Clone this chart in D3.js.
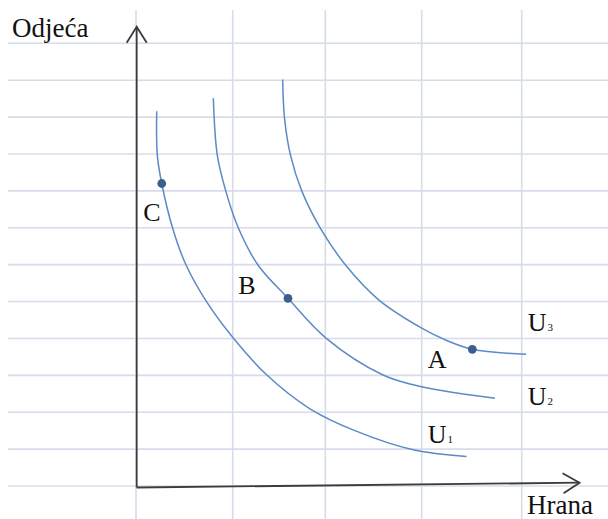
<!DOCTYPE html>
<html><head><meta charset="utf-8">
<script src="https://cdn.jsdelivr.net/npm/d3@7"></script>
<style>html,body{margin:0;padding:0;background:#fff;}svg{display:block;}</style>
</head><body>
<script>
// ---- data (grid units) ----
const gridX = [0, 1.003, 1.964, 2.963, 4];
const gridY = [0,1,2,3,4,5,6,7,8,9,10,11,12];
const curveNames = ["U1","U2","U3"];
const u1 = [[0.215,10.16],[0.221,8.97],[0.267,8.20],[0.381,6.98],[0.519,5.99],[0.733,4.99],[1.009,4.01],[1.36,3.00],[1.80,2.10],[2.27,1.50],[2.876,0.98],[3.427,0.80]];
const u2 = [[0.802,10.51],[0.843,8.97],[0.933,7.98],[1.063,6.985],[1.265,5.99],[1.576,5.088],[1.970,4.01],[2.562,3.01],[2.963,2.69],[3.723,2.38]];
const u3 = [[1.521,11.02],[1.540,9.98],[1.602,8.97],[1.722,7.98],[1.913,6.985],[2.173,5.99],[2.520,5.04],[2.963,4.28],[3.222,3.944],[3.488,3.705],[4.045,3.57]];
const pointNames = ["A","B","C"];
const pointValues = [[3.488,3.705],[1.576,5.088],[0.267,8.20]];
const xTitle = "Hrana";
const yTitle = "Odjeća";

const W = 608, H = 519;
const x = d3.scaleLinear().domain([0,4]).range([136,521.7]);
const y = d3.scaleLinear().domain([0,12]).range([486,43.3]);

const svg = d3.select("body").append("svg").attr("width",W).attr("height",H);

// grid
const gridColor = "#d7dcea";
svg.append("g").selectAll("line").data(gridY).join("line")
  .attr("x1",8).attr("x2",W).attr("y1",d=>y(d)).attr("y2",d=>y(d))
  .attr("stroke",gridColor).attr("stroke-width",1.6);
svg.append("g").selectAll("line").data(gridX).join("line")
  .attr("x1",d=>x(d)).attr("x2",d=>x(d)).attr("y1",10).attr("y2",H)
  .attr("stroke",gridColor).attr("stroke-width",1.6);

// axes
const axisColor = "#3c3c3c";
const ox = x(0)+0.7, oy = y(0)+1.5;
const yTop = y(12.45), xEnd = x(4.6);
const ax = svg.append("g").attr("stroke",axisColor).attr("fill","none").attr("stroke-width",1.8);
ax.append("line").attr("x1",ox).attr("y1",oy).attr("x2",ox).attr("y2",yTop);
ax.append("path").attr("d",`M${ox-10},${yTop+16}L${ox},${yTop}L${ox+10},${yTop+16}`);
const xTipY = oy-4.8;
ax.append("line").attr("x1",ox).attr("y1",oy).attr("x2",xEnd).attr("y2",xTipY);
ax.append("path").attr("d",`M${xEnd-17},${xTipY-9.5}L${xEnd},${xTipY}L${xEnd-16},${xTipY+10.5}`);

// curves
const line = d3.line().x(d=>x(d[0])).y(d=>y(d[1])).curve(d3.curveCatmullRom.alpha(0.5));
const curves = [u1,u2,u3];
svg.append("g").selectAll("path").data(curves).join("path")
  .attr("d",line).attr("fill","none").attr("stroke","#5b8ac6").attr("stroke-width",1.5);

// points
svg.append("g").selectAll("circle").data(pointValues).join("circle")
  .attr("cx",d=>x(d[0])).attr("cy",d=>y(d[1])).attr("r",4.4).attr("fill","#3d5f8e");

const font = "'Liberation Serif','Times New Roman',serif";
const textColor = "#111";
// point labels (offsets from dots)
const pOff = [[-44.6,18.7],[-49.7,-4],[-18.4,37.4]];
svg.append("g").selectAll("text").data(pointValues).join("text")
  .attr("x",(d,i)=>x(d[0])+pOff[i][0]).attr("y",(d,i)=>y(d[1])+pOff[i][1])
  .attr("font-family",font).attr("font-size",26).attr("fill",textColor)
  .text((d,i)=>pointNames[i]);

// curve labels (offsets from curve ends)
const cOff = [[-38.8,-13.6],[32.7,7],[1.7,-23.3]];
const cl = svg.append("g").selectAll("text").data(curves).join("text")
  .attr("x",(d,i)=>x(d[d.length-1][0])+cOff[i][0]).attr("y",(d,i)=>y(d[d.length-1][1])+cOff[i][1])
  .attr("font-family",font).attr("font-size",26).attr("fill",textColor);
cl.append("tspan").text((d,i)=>curveNames[i][0]);
cl.append("tspan").attr("font-size",11).attr("dx",1).text((d,i)=>curveNames[i].slice(1));

// axis titles
svg.append("text").attr("x",12).attr("y",37).attr("font-family",font).attr("font-size",27)
  .attr("fill",textColor).text(yTitle);
svg.append("text").attr("x",527).attr("y",514).attr("font-family",font).attr("font-size",27)
  .attr("fill",textColor).text(xTitle);
</script>
</body></html>
